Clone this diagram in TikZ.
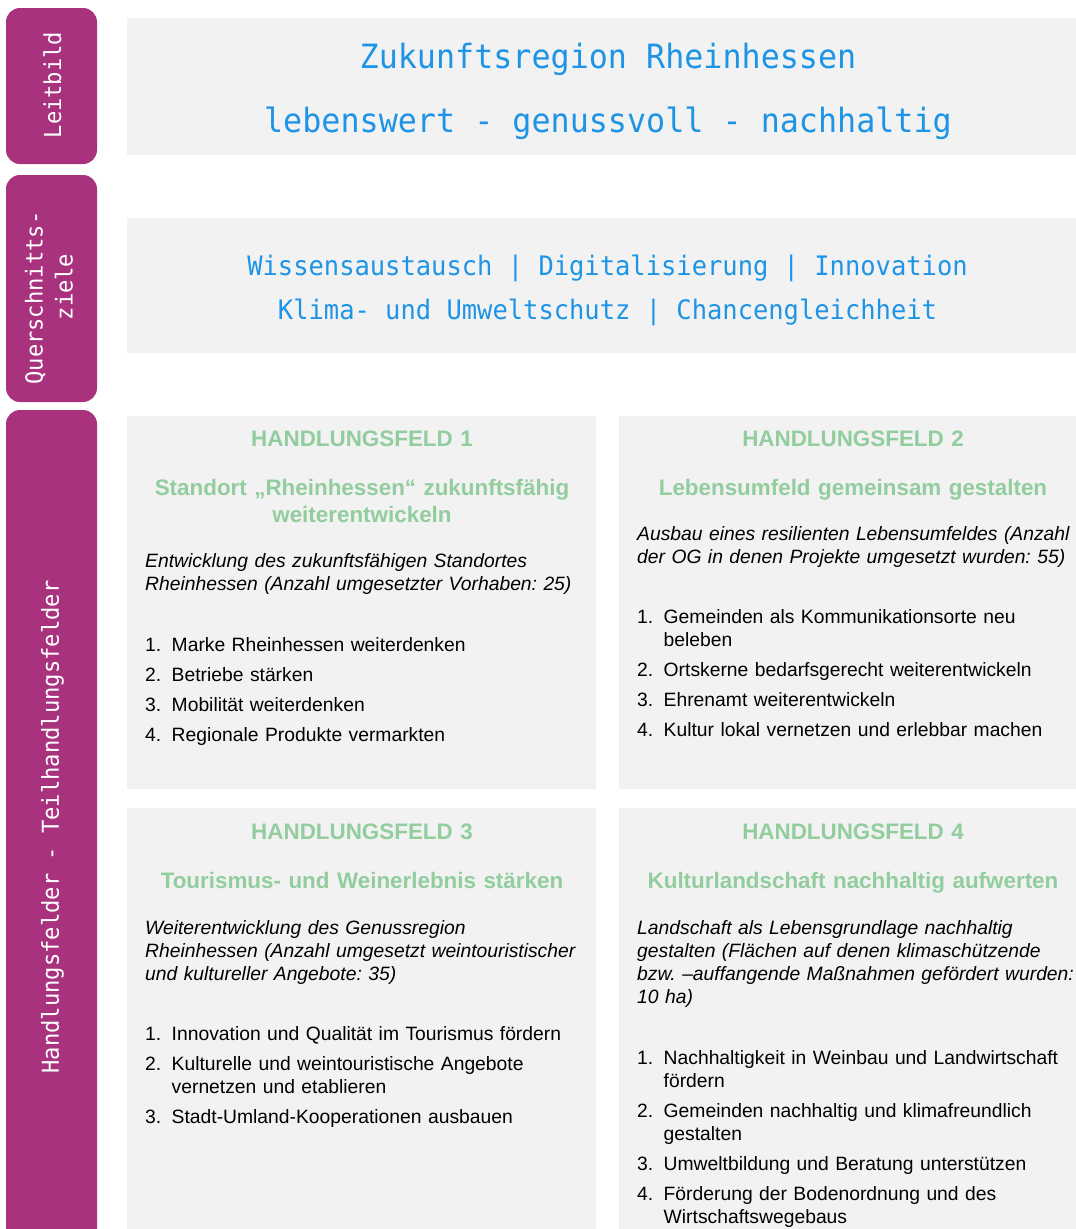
\documentclass[tikz,border=0pt]{standalone}
\usepackage{fontspec}
\setmainfont{Liberation Sans}
\newfontfamily\monofont[FakeStretch=0.95]{DejaVu Sans Mono}
\frenchspacing

\definecolor{tabcol}{RGB}{168,50,126}
\definecolor{boxcol}{RGB}{242,242,242}
\definecolor{bluetext}{RGB}{30,148,230}
\definecolor{greentext}{RGB}{146,205,158}

\tikzset{
  tab/.style={fill=tabcol, rounded corners=14pt},
  panel/.style={fill=boxcol},
  tablabel/.style={text=white, font=\monofont\fontsize{23.3}{30}\selectfont, rotate=90, inner sep=0pt, align=center},
  motto/.style={text=bluetext, font=\monofont\fontsize{33.4}{40}\selectfont, inner sep=0pt, anchor=base},
  goal/.style={text=bluetext, font=\monofont\fontsize{26.8}{32}\selectfont, inner sep=0pt, anchor=base},
  fieldhead/.style={text=greentext, font=\bfseries\fontsize{22.4}{27}\selectfont, inner sep=0pt, anchor=base, text width=470pt, align=center},
  fielddesc/.style={font=\itshape\fontsize{19.3}{23}\selectfont, inner sep=0pt, anchor=base west, text width=460pt, align=left},
  fieldlist/.style={font=\fontsize{19.3}{23}\selectfont, inner sep=0pt, anchor=base west, text width=460pt, align=left},
}
% numbered entry with hanging indent
\newcommand\hfitem[2]{\hangindent=26.5pt\hangafter=1\noindent\makebox[26.5pt][l]{#1.}#2\par\parskip=7pt}

\begin{document}
\begin{tikzpicture}[x=1pt,y=-1pt]
\useasboundingbox (0,0) rectangle (1076,1229);

% side tabs
\fill[tab] (6,8) rectangle (97,164);
\fill[tab] (6,175) rectangle (97,402);
\fill[tab] (6,410) rectangle (97,1270);
\node[tablabel] (leitbild) at (52.5,85) {Leitbild};
\node[tablabel] (ziele) at (49,298) {Querschnitts-\\\hspace*{22pt}ziele};
\node[tablabel] (felder) at (52.5,827) {Handlungsfelder - Teilhandlungsfelder};

% panels
\fill[panel] (127,18) rectangle (1076,155);
\fill[panel] (127,218) rectangle (1076,353);
\fill[panel] (127,416) rectangle (596,789);
\fill[panel] (619,416) rectangle (1076,789);
\fill[panel] (127,808) rectangle (596,1229);
\fill[panel] (619,808) rectangle (1076,1229);

\node[motto] (region) at (608,68) {Zukunftsregion Rheinhessen};
\node[motto] (claim) at (608,132) {lebenswert - genussvoll - nachhaltig};

\node[goal] (goals1) at (607.5,275.5) {Wissensaustausch | Digitalisierung | Innovation};
\node[goal] (goals2) at (607.5,319) {Klima- und Umweltschutz | Chancengleichheit};

% Handlungsfeld 1
\node[fieldhead] (hf1) at (362,446) {HANDLUNGSFELD 1};
\node[fieldhead] (hf1title) at (362,495) {Standort „Rheinhessen“ zukunftsfähig\\weiterentwickeln};
\node[fielddesc] (hf1desc) at (145,567) {Entwicklung des zukunftsfähigen Standortes\\Rheinhessen (Anzahl umgesetzter Vorhaben: 25)};
\node[fieldlist] (hf1list) at (145,651) {%
  \hfitem{1}{Marke Rheinhessen weiterdenken}
  \hfitem{2}{Betriebe stärken}
  \hfitem{3}{Mobilität weiterdenken}
  \hfitem{4}{Regionale Produkte vermarkten}};

% Handlungsfeld 2
\node[fieldhead] (hf2) at (853,446) {HANDLUNGSFELD 2};
\node[fieldhead] (hf2title) at (853,495) {Lebensumfeld gemeinsam gestalten};
\node[fielddesc] (hf2desc) at (637,540) {Ausbau eines resilienten Lebensumfeldes (Anzahl\\der OG in denen Projekte umgesetzt wurden: 55)};
\node[fieldlist] (hf2list) at (637,623) {%
  \hfitem{1}{Gemeinden als Kommunikationsorte neu\newline beleben}
  \hfitem{2}{Ortskerne bedarfsgerecht weiterentwickeln}
  \hfitem{3}{Ehrenamt weiterentwickeln}
  \hfitem{4}{Kultur lokal vernetzen und erlebbar machen}};

% Handlungsfeld 3
\node[fieldhead] (hf3) at (362,839) {HANDLUNGSFELD 3};
\node[fieldhead] (hf3title) at (362,888) {Tourismus- und Weinerlebnis stärken};
\node[fielddesc] (hf3desc) at (145,934) {Weiterentwicklung des Genussregion\\Rheinhessen (Anzahl umgesetzt weintouristischer\\und kultureller Angebote: 35)};
\node[fieldlist] (hf3list) at (145,1040) {%
  \hfitem{1}{Innovation und Qualität im Tourismus fördern}
  \hfitem{2}{Kulturelle und weintouristische Angebote\newline vernetzen und etablieren}
  \hfitem{3}{Stadt-Umland-Kooperationen ausbauen}};

% Handlungsfeld 4
\node[fieldhead] (hf4) at (853,839) {HANDLUNGSFELD 4};
\node[fieldhead] (hf4title) at (853,888) {Kulturlandschaft nachhaltig aufwerten};
\node[fielddesc] (hf4desc) at (637,934) {Landschaft als Lebensgrundlage nachhaltig\\gestalten (Flächen auf denen klimaschützende\\bzw. –auffangende Maßnahmen gefördert wurden:\\10 ha)};
\node[fieldlist] (hf4list) at (637,1064) {%
  \hfitem{1}{Nachhaltigkeit in Weinbau und Landwirtschaft\newline fördern}
  \hfitem{2}{Gemeinden nachhaltig und klimafreundlich\newline gestalten}
  \hfitem{3}{Umweltbildung und Beratung unterstützen}
  \hfitem{4}{Förderung der Bodenordnung und des\newline Wirtschaftswegebaus}};
\end{tikzpicture}
\end{document}
